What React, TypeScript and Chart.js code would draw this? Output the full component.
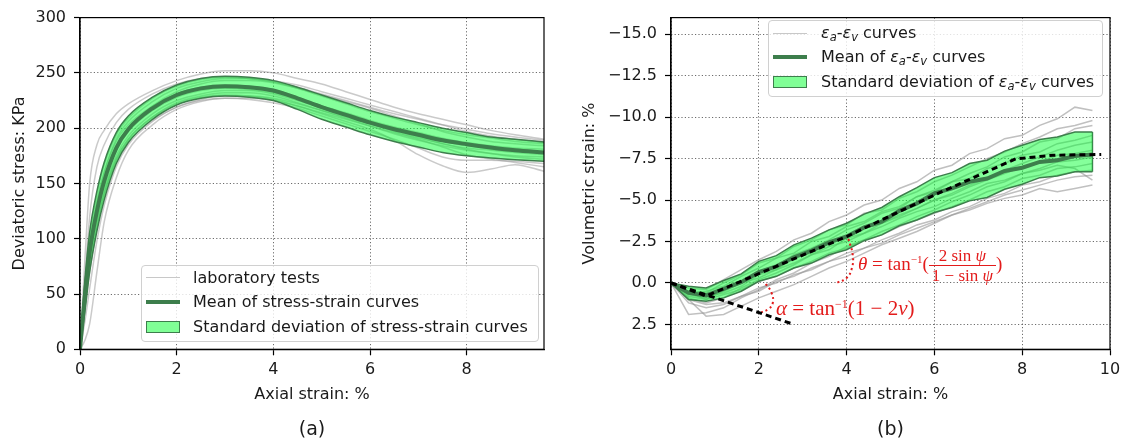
import React, { useEffect, useRef } from "react";
import { Chart, registerables } from "chart.js";

Chart.register(...registerables);

const FONT = "'DejaVu Sans', 'Liberation Sans', sans-serif";
const SERIF = "'Liberation Serif', 'DejaVu Serif', serif";
const TEXT = "#1a1a1a";
const GRAY = "rgba(150,150,150,0.5)";
const GRAY_R = "rgba(150,150,150,0.6)";
const DARK_GREEN = "rgb(61,126,76)";
const BAND_FILL = "rgba(0,255,45,0.48)";
const PATCH_FILL = "rgb(128,255,150)";
const RED = "#e31b1b";

// ---------- Panel (a): stress-strain ----------
const L_X = [0, 0.1, 0.2, 0.35, 0.5, 0.75, 1, 1.5, 2, 2.5, 3, 3.5, 4, 4.5, 5, 5.5, 6, 6.5, 7, 7.5, 8, 8.5, 9, 9.6];
const L_TEST_1 = [0, 80, 150, 185, 198, 213, 222, 234, 243, 249, 252, 252, 250, 245, 240, 233, 226, 219, 213, 208, 203, 198, 194, 190];
const L_TEST_2 = [0, 60, 120, 165, 185, 205, 217, 231, 240, 245, 246, 245, 242, 237, 231, 225, 219, 213, 208, 203, 199, 195, 192, 189];
const L_TEST_3 = [0, 55, 100, 140, 167, 194, 209, 227, 238, 244, 246, 245, 242, 236, 229, 222, 215, 209, 203, 198, 194, 191, 188, 186];
const L_TEST_4 = [0, 50, 90, 128, 155, 184, 200, 219, 231, 237, 239, 238, 235, 228, 220, 213, 206, 200, 195, 190, 186, 183, 181, 179];
const L_TEST_5 = [0, 45, 85, 122, 150, 180, 197, 216, 228, 234, 236, 235, 232, 226, 219, 212, 205, 199, 193, 188, 184, 181, 179, 177];
const L_TEST_6 = [0, 42, 80, 118, 145, 175, 193, 213, 225, 231, 234, 234, 231, 225, 218, 211, 204, 197, 191, 186, 182, 180, 178, 176];
const L_TEST_7 = [0, 40, 78, 115, 142, 172, 190, 210, 222, 228, 230, 229, 226, 220, 213, 206, 199, 189, 176, 166, 160, 163, 167, 161];
const L_TEST_8 = [0, 38, 74, 112, 140, 170, 188, 207, 219, 225, 227, 226, 223, 218, 211, 204, 197, 190, 182, 174, 171, 171, 170, 168];
const L_TEST_9 = [0, 8, 23, 70, 115, 155, 180, 203, 217, 224, 227, 227, 225, 220, 214, 208, 202, 196, 190, 183, 176, 172, 169, 165];
const L_TEST_10 = [0, 25, 55, 98, 130, 165, 185, 206, 219, 226, 229, 229, 227, 222, 216, 210, 204, 198, 192, 186, 181, 177, 174, 172];
const L_TEST_11 = [0, 45, 88, 126, 154, 183, 200, 220, 233, 240, 243, 243, 241, 236, 230, 224, 218, 211, 204, 197, 192, 188, 186, 184];
const L_TEST_12 = [0, 48, 92, 132, 160, 190, 206, 224, 236, 242, 245, 245, 243, 239, 233, 227, 221, 215, 209, 203, 197, 193, 190, 187];
const L_TEST_13 = [0, 35, 70, 110, 140, 172, 190, 210, 223, 229, 232, 232, 229, 223, 216, 209, 202, 195, 189, 184, 180, 177, 175, 174];
const L_TEST_14 = [0, 52, 96, 134, 160, 188, 203, 220, 231, 236, 238, 237, 233, 227, 220, 214, 207, 201, 196, 191, 187, 184, 182, 181];
const L_TESTS = [L_TEST_1, L_TEST_2, L_TEST_3, L_TEST_4, L_TEST_5, L_TEST_6, L_TEST_7, L_TEST_8, L_TEST_9, L_TEST_10, L_TEST_11, L_TEST_12, L_TEST_13, L_TEST_14];
const L_MEAN = [0, 48, 88, 125, 152, 182, 199, 218, 230, 236, 238, 237, 234, 227, 219, 212, 205, 199, 194, 189, 185.5, 182.5, 180, 178];
const L_UPPER = [0, 62, 106, 143, 169, 196, 211, 228, 239, 245, 247, 246, 243, 237, 230, 223, 216, 210, 205, 200, 196, 192, 190, 187.5];
const L_LOWER = [0, 34, 70, 107, 135, 168, 187, 208, 221, 227, 229, 228, 225, 217, 208, 201, 194, 188, 183, 178, 175, 173, 171.5, 170];
const L_X_TICKS = [0, 2, 4, 6, 8];
const L_Y_TICKS = [0, 50, 100, 150, 200, 250, 300];

// ---------- Panel (b): volumetric strain ----------
const R_X = [0, 0.4, 0.8, 1.2, 1.6, 2.0, 2.4, 2.8, 3.2, 3.6, 4.0, 4.4, 4.8, 5.2, 5.6, 6.0, 6.4, 6.8, 7.2, 7.6, 8.0, 8.4, 8.8, 9.2, 9.6];
const R_TEST_1 = [0, 0.3, 0.4, -0.2, -0.8, -1.4, -1.9, -2.6, -3.0, -3.7, -4.1, -4.7, -5.0, -5.7, -6.1, -6.8, -7.1, -7.8, -8.1, -8.7, -8.9, -9.5, -9.9, -10.6, -10.4];
const R_TEST_2 = [0, 0.5, 0.6, 0.0, -0.5, -1.2, -1.5, -2.2, -2.6, -3.2, -3.5, -4.2, -4.4, -5.1, -5.5, -6.1, -6.5, -7.0, -7.5, -7.9, -8.4, -8.8, -9.3, -9.5, -9.8];
const R_TEST_3 = [0, 0.7, 0.9, 0.4, 0.0, -0.7, -1.0, -1.7, -2.1, -2.6, -3.2, -3.6, -4.2, -4.5, -5.2, -5.6, -6.1, -6.6, -7.0, -7.6, -7.9, -8.5, -8.7, -9.3, -9.5];
const R_TEST_4 = [0, 0.6, 0.5, 0.2, -0.4, -0.9, -1.5, -1.8, -2.5, -2.8, -3.4, -3.7, -4.3, -4.6, -5.2, -5.5, -6.1, -6.3, -6.9, -7.2, -7.7, -7.9, -8.4, -8.6, -8.9];
const R_TEST_5 = [0, 0.9, 1.2, 0.9, 0.3, -0.2, -0.6, -1.1, -1.7, -2.0, -2.7, -3.0, -3.6, -4.0, -4.5, -5.0, -5.4, -5.9, -6.3, -6.8, -7.2, -7.6, -8.0, -8.3, -8.5];
const R_TEST_6 = [0, 0.5, 0.8, 0.6, 0.2, -0.5, -0.8, -1.5, -1.8, -2.4, -2.7, -3.3, -3.6, -4.1, -4.5, -5.0, -5.3, -5.8, -6.2, -6.6, -7.0, -7.3, -7.7, -7.8, -8.0];
const R_TEST_7 = [0, 1.9, 1.8, 1.5, 0.9, 0.4, -0.2, -0.6, -1.2, -1.6, -2.2, -2.6, -3.1, -3.5, -4.0, -4.4, -4.9, -5.3, -5.8, -6.1, -6.6, -6.9, -7.3, -7.4, -7.6];
const R_TEST_8 = [0, 0.8, 1.0, 0.7, 0.4, -0.1, -0.4, -0.9, -1.3, -1.8, -2.1, -2.6, -2.9, -3.4, -3.8, -4.2, -4.6, -5.0, -5.5, -5.8, -6.3, -6.5, -6.9, -7.0, -7.2];
const R_TEST_9 = [0, 1.2, 1.5, 1.3, 0.8, 0.5, -0.1, -0.4, -0.9, -1.3, -1.8, -2.1, -2.6, -3.0, -3.5, -3.8, -4.3, -4.6, -5.1, -5.4, -5.9, -6.1, -6.5, -6.7, -6.8];
const R_TEST_10 = [0, 1.0, 2.0, 1.9, 1.4, 0.9, 0.5, 0.1, -0.4, -0.9, -1.3, -1.8, -2.3, -2.7, -3.1, -3.6, -4.1, -4.5, -4.9, -5.3, -5.6, -5.9, -6.2, -6.4, -6.5];
const R_TEST_11 = [0, 1.0, 1.3, 1.2, 0.8, 0.3, 0.0, -0.5, -0.8, -1.3, -1.6, -2.1, -2.4, -2.9, -3.3, -3.7, -4.1, -4.4, -4.8, -5.1, -5.3, -5.7, -5.5, -5.7, -5.9];
const R_TEST_12 = [0, 0.6, 1.0, 0.5, 0.0, -0.3, -0.8, -1.2, -1.7, -2.2, -2.5, -3.0, -3.4, -3.9, -4.3, -4.6, -5.1, -5.5, -6.0, -6.2, -6.6, -6.8, -7.1, -6.9, -6.2];
const R_TESTS = [R_TEST_1, R_TEST_2, R_TEST_3, R_TEST_4, R_TEST_5, R_TEST_6, R_TEST_7, R_TEST_8, R_TEST_9, R_TEST_10, R_TEST_11, R_TEST_12];
const R_MEAN = [0, 0.6, 0.75, 0.35, -0.05, -0.65, -1.0, -1.55, -1.95, -2.45, -2.8, -3.35, -3.7, -4.35, -4.8, -5.4, -5.7, -6.1, -6.3, -6.75, -6.95, -7.3, -7.4, -7.65, -7.75];
const R_UPPER = [0, 0.2, 0.3, -0.15, -0.55, -1.3, -1.65, -2.3, -2.7, -3.2, -3.6, -4.15, -4.55, -5.2, -5.75, -6.35, -6.65, -7.2, -7.4, -7.95, -8.3, -8.65, -8.8, -9.1, -9.1];
const R_LOWER = [0, 1.0, 1.1, 0.9, 0.5, -0.1, -0.4, -0.9, -1.2, -1.7, -2.0, -2.55, -2.9, -3.45, -3.8, -4.25, -4.55, -4.95, -5.15, -5.65, -5.95, -6.35, -6.45, -6.7, -6.7];
const FIT_X = [0, 0.8, 4, 6, 7.85, 8.7, 9.8];
const FIT_Y = [0, 0.79, -2.8, -5.3, -7.48, -7.7, -7.75];
const ALPHA_LINE_X = [0, 2.8];
const ALPHA_LINE_Y = [0, 2.5];
const THETA_ARC_X = [4.04, 4.14, 4.12, 4.0, 3.77];
const THETA_ARC_Y = [-2.66, -1.68, -0.89, -0.3, 0];
const ALPHA_ARC_X = [2.16, 2.29, 2.32, 2.22, 1.99];
const ALPHA_ARC_Y = [0.06, 0.59, 1.18, 1.57, 1.83];
const R_X_TICKS = [0, 2, 4, 6, 8, 10];
const R_Y_TICKS = [-15, -12.5, -10, -7.5, -5, -2.5, 0, 2.5];

const xy = (xs: number[], ys: number[]) => xs.map((x, i) => ({ x, y: ys[i] }));

const framePlugin = {
  id: "frame",
  afterDraw(chart: any) {
    const { ctx, chartArea: a } = chart;
    ctx.save();
    ctx.strokeStyle = "#000";
    ctx.lineWidth = 1.2;
    ctx.strokeRect(a.left, a.top, a.right - a.left, a.bottom - a.top);
    ctx.restore();
  },
};

const gridOpts = {
  color: "rgba(50,50,50,0.8)",
  lineWidth: 0.9,
  drawTicks: true,
  tickLength: 6,
  tickColor: "#000",
  tickWidth: 1.2,
  tickBorderDash: [],
};
const borderOpts = { display: true, color: "#000", width: 1.2, dash: [1.2, 2.2] };

function xScale(min: number, max: number, ticks: number[], height: number) {
  return {
    type: "linear",
    min,
    max,
    afterBuildTicks: (ax: any) => {
      ax.ticks = ticks.map((v) => ({ value: v }));
    },
    afterFit: (ax: any) => {
      ax.height = height;
    },
    grid: gridOpts,
    border: borderOpts,
    ticks: {
      autoSkip: false,
      maxRotation: 0,
      padding: 5,
      color: TEXT,
      font: { family: FONT, size: 16 },
      callback: (v: number) => String(v),
    },
    title: {
      display: true,
      text: "Axial strain: %",
      color: TEXT,
      font: { family: FONT, size: 16 },
      padding: { top: 0, bottom: 9 },
    },
  };
}

function yScale(min: number, max: number, ticks: number[], width: number, title: string, titlePad: number, fmt: (v: number) => string, reverse: boolean) {
  return {
    type: "linear",
    min,
    max,
    reverse,
    afterBuildTicks: (ax: any) => {
      ax.ticks = ticks.map((v) => ({ value: v }));
    },
    afterFit: (ax: any) => {
      ax.width = width;
    },
    grid: gridOpts,
    border: borderOpts,
    ticks: {
      autoSkip: false,
      padding: 8,
      color: TEXT,
      font: { family: FONT, size: 16 },
      callback: (v: number) => fmt(v),
    },
    title: {
      display: true,
      text: title,
      color: TEXT,
      font: { family: FONT, size: 16 },
      padding: { top: titlePad, bottom: 0 },
    },
  };
}

function captionOpts(text: string) {
  return {
    display: true,
    position: "bottom",
    text,
    fullSize: false,
    color: TEXT,
    font: { family: FONT, size: 19, weight: "normal" },
    padding: { top: 5, bottom: 5.6 },
  };
}

function useChart(ref: any, makeConfig: () => any) {
  useEffect(() => {
    const chart = new Chart(ref.current, makeConfig());
    return () => chart.destroy();
  }, []);
}

function leftConfig() {
  const datasets: any[] = [];
  L_TESTS.forEach((ys) =>
    datasets.push({ data: xy(L_X, ys), borderColor: GRAY, borderWidth: 1.5, pointRadius: 0, cubicInterpolationMode: "monotone", fill: false, order: 4 })
  );
  datasets.push({ data: xy(L_X, L_UPPER), borderColor: DARK_GREEN, borderWidth: 1.5, pointRadius: 0, cubicInterpolationMode: "monotone", fill: false, order: 2 });
  datasets.push({ data: xy(L_X, L_LOWER), borderColor: DARK_GREEN, borderWidth: 1.5, pointRadius: 0, cubicInterpolationMode: "monotone", fill: "-1", backgroundColor: BAND_FILL, order: 2 });
  datasets.push({ data: xy(L_X, L_MEAN), borderColor: DARK_GREEN, borderWidth: 4, pointRadius: 0, cubicInterpolationMode: "monotone", fill: false, order: 1 });
  return {
    type: "line",
    data: { datasets },
    options: {
      responsive: false,
      animation: false,
      layout: { padding: { top: 12, left: 0, right: 16, bottom: 0 } },
      scales: {
        x: xScale(0, 9.6, L_X_TICKS, 64.3),
        y: yScale(0, 300, L_Y_TICKS, 80, "Deviatoric stress: KPa", 10.4, (v) => String(v), false),
      },
      plugins: { legend: { display: false }, tooltip: { enabled: false }, title: captionOpts("(a)") },
    },
    plugins: [framePlugin],
  };
}

function rightConfig() {
  const datasets: any[] = [];
  R_TESTS.forEach((ys) =>
    datasets.push({ data: xy(R_X, ys), borderColor: GRAY_R, borderWidth: 1.5, pointRadius: 0, tension: 0, fill: false, order: 4 })
  );
  datasets.push({ data: xy(R_X, R_UPPER), borderColor: DARK_GREEN, borderWidth: 1.5, pointRadius: 0, fill: false, order: 2 });
  datasets.push({ data: xy(R_X, R_LOWER), borderColor: DARK_GREEN, borderWidth: 1.5, pointRadius: 0, fill: "-1", backgroundColor: BAND_FILL, order: 2 });
  const n = R_X.length - 1;
  datasets.push({ data: xy([R_X[n], R_X[n]], [R_UPPER[n], R_LOWER[n]]), borderColor: DARK_GREEN, borderWidth: 1.5, pointRadius: 0, fill: false, order: 2 });
  datasets.push({ data: xy(R_X, R_MEAN), borderColor: DARK_GREEN, borderWidth: 4, pointRadius: 0, fill: false, order: 1 });
  datasets.push({ data: xy(FIT_X, FIT_Y), borderColor: "#000", borderWidth: 3, borderDash: [6, 4], pointRadius: 0, fill: false, order: 0 });
  datasets.push({ data: xy(ALPHA_LINE_X, ALPHA_LINE_Y), borderColor: "#000", borderWidth: 3, borderDash: [6, 4], pointRadius: 0, fill: false, order: 0 });
  datasets.push({ data: xy(THETA_ARC_X, THETA_ARC_Y), borderColor: RED, borderWidth: 2, borderDash: [2, 3], pointRadius: 0, tension: 0.45, fill: false, order: 0 });
  datasets.push({ data: xy(ALPHA_ARC_X, ALPHA_ARC_Y), borderColor: RED, borderWidth: 2, borderDash: [2, 3], pointRadius: 0, tension: 0.45, fill: false, order: 0 });
  return {
    type: "line",
    data: { datasets },
    options: {
      responsive: false,
      animation: false,
      layout: { padding: { top: 12, left: 0, right: 19, bottom: 0 } },
      scales: {
        x: xScale(0, 10, R_X_TICKS, 64.3),
        y: yScale(-16, 4, R_Y_TICKS, 111, "Volumetric strain: %", 20.4, (v) => v.toFixed(1).replace("-", "\u2212"), true),
      },
      plugins: { legend: { display: false }, tooltip: { enabled: false }, title: captionOpts("(b)") },
    },
    plugins: [framePlugin],
  };
}

const subStyle: any = { fontSize: "0.72em", verticalAlign: "-0.3em", lineHeight: 0, fontStyle: "italic" };
const EaEv = () => (
  <>
    <i>ε</i>
    <sub style={subStyle}>a</sub>-<i>ε</i>
    <sub style={subStyle}>v</sub>
  </>
);

function Row({ y, handle, children, textLeft }: any) {
  return (
    <div style={{ position: "absolute", left: 0, top: y - 12, height: 24, width: "100%" }}>
      <div style={{ position: "absolute", left: 4, top: 0, width: 34, height: 24, display: "flex", alignItems: "center" }}>{handle}</div>
      <div style={{ position: "absolute", left: textLeft, top: 0, height: 24, lineHeight: "24px", whiteSpace: "nowrap" }}>{children}</div>
    </div>
  );
}

const lineHandle = (h: number, c: string) => <div style={{ width: 34, height: h, background: c }} />;
const patchHandle = (
  <div style={{ width: 34, height: 12, boxSizing: "border-box", border: `1.5px solid ${DARK_GREEN}`, background: PATCH_FILL }} />
);

const legendBox: any = {
  position: "absolute",
  boxSizing: "border-box",
  border: "1px solid #d0d0d0",
  borderRadius: 4,
  background: "rgba(255,255,255,0.8)",
  fontFamily: FONT,
  fontSize: 16,
  color: TEXT,
};

export default function App() {
  const leftRef = useRef<HTMLCanvasElement>(null);
  const rightRef = useRef<HTMLCanvasElement>(null);
  useChart(leftRef, leftConfig);
  useChart(rightRef, rightConfig);

  return (
    <div style={{ position: "absolute", left: 0, top: 0, width: 1129, height: 447, background: "#fff", overflow: "hidden" }}>
      <canvas ref={leftRef} width={560} height={447} style={{ position: "absolute", left: 0, top: 0 }} />
      <canvas ref={rightRef} width={569} height={447} style={{ position: "absolute", left: 560, top: 0 }} />

      <div style={{ ...legendBox, left: 141, top: 265, width: 398, height: 77 }}>
        <Row y={11.7} textLeft={51} handle={lineHandle(1.5, "rgb(200,200,200)")}>laboratory tests</Row>
        <Row y={36.3} textLeft={51} handle={lineHandle(4, DARK_GREEN)}>Mean of stress-strain curves</Row>
        <Row y={60.5} textLeft={51} handle={patchHandle}>Standard deviation of stress-strain curves</Row>
      </div>

      <div style={{ ...legendBox, left: 768, top: 20, width: 335, height: 77 }}>
        <Row y={12.3} textLeft={52} handle={lineHandle(1.5, "rgb(200,200,200)")}>
          <EaEv /> curves
        </Row>
        <Row y={36.3} textLeft={52} handle={lineHandle(4, DARK_GREEN)}>
          Mean of <EaEv /> curves
        </Row>
        <Row y={60.7} textLeft={52} handle={patchHandle}>
          Standard deviation of <EaEv /> curves
        </Row>
      </div>

      <div style={{ position: "absolute", left: 858, top: 246, height: 32, color: RED, fontFamily: SERIF, fontSize: 19, whiteSpace: "nowrap", lineHeight: "32px" }}>
        <i>θ</i> = tan<sup style={{ fontSize: 11, verticalAlign: "0.6em", lineHeight: 0 }}>−1</sup>(
        <span style={{ display: "inline-flex", flexDirection: "column", alignItems: "center", verticalAlign: "middle", fontSize: 17, lineHeight: "19px" }}>
          <span style={{ padding: "0 3px" }}>
            2 sin <i>ψ</i>
          </span>
          <span style={{ borderTop: `1px solid ${RED}`, padding: "0 3px" }}>
            1 − sin <i>ψ</i>
          </span>
        </span>
        )
      </div>

      <div style={{ position: "absolute", left: 776, top: 296, height: 24, color: RED, fontFamily: SERIF, fontSize: 21, whiteSpace: "nowrap", lineHeight: "24px" }}>
        <i>α</i> = tan<sup style={{ fontSize: 12, verticalAlign: "0.6em", lineHeight: 0 }}>−1</sup>(1 − 2<i>ν</i>)
      </div>
    </div>
  );
}
